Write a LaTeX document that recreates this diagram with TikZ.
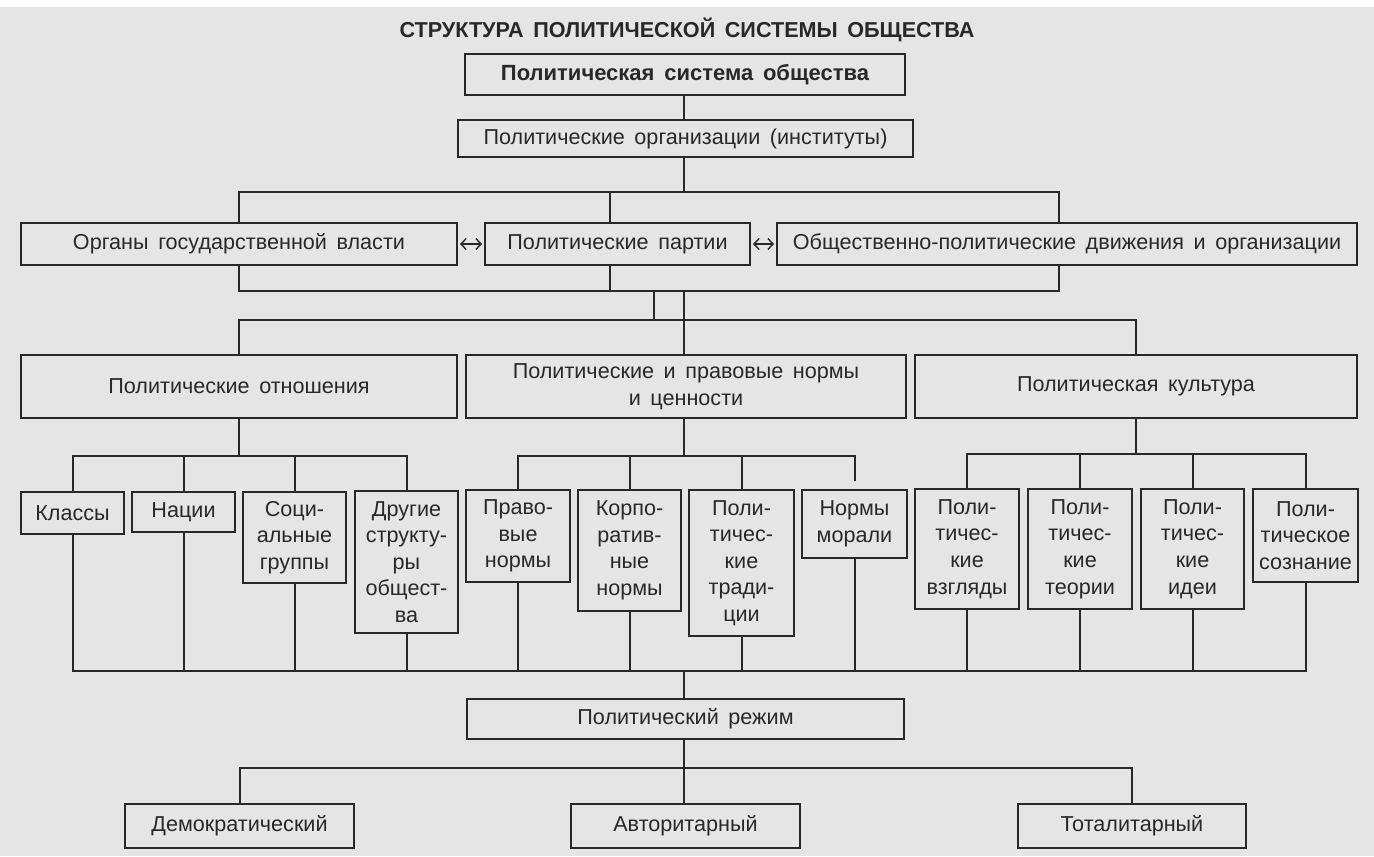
\documentclass[tikz,border=0pt]{standalone}
\usepackage{fontspec}
\setmainfont{Liberation Sans}[WordSpace=1.6]
\usetikzlibrary{arrows.meta,calc}
\definecolor{bg}{RGB}{229,229,229}
\definecolor{ink}{RGB}{40,40,40}
\begin{document}
\begin{tikzpicture}[x=0.5pt,y=-0.5pt,
 box/.style={draw=ink, line width=1pt, inner sep=0pt, align=center, text=ink, font=\fontsize{10.8}{13.3}\selectfont},
 sz/.style 2 args={minimum width={#1*0.5pt}, minimum height={#2*0.5pt}},
 ln/.style={draw=ink, line width=1pt},
 dbl/.style={draw=ink, line width=0.7pt, {Straight Barb[length=2.6pt,width=5.5pt]}-{Straight Barb[length=2.6pt,width=5.5pt]}, shorten <=1pt, shorten >=1pt}]
\useasboundingbox (0,0) rectangle (1374,856);
\fill[bg] (0,0) rectangle (1374,856);
\fill[white] (0,0) rectangle (1374,7);

\node[text=ink, font=\bfseries\fontsize{10.8}{12}\selectfont] (title) at (687,30) {СТРУКТУРА ПОЛИТИЧЕСКОЙ СИСТЕМЫ ОБЩЕСТВА};

\node[box, sz={440}{41}, font=\bfseries\fontsize{11}{13.3}\selectfont] (b1) at (685,74.5) {Политическая система общества};
\node[box, sz={455}{37}] (b2) at (685.5,138.5) {Политические организации (институты)};

\node[box, sz={436}{42}] (org) at (239,244) {Органы государственной власти};
\node[box, sz={265}{42}] (part) at (617.5,244) {Политические партии};
\node[box, sz={580}{42}] (obsh) at (1067,244) {Общественно-политические движения и организации};

\node[box, sz={436}{63}] (rel) at (239,386.5) {Политические отношения};
\node[box, sz={440}{63}] (norm) at (686,386.5) {Политические и правовые нормы\\и ценности};
\node[box, sz={442}{63}] (cult) at (1136,386.5) {Политическая культура};

\node[box, sz={103}{42}] (kl) at (72.5,513) {Классы};
\node[box, sz={103}{40}] (na) at (183.5,512) {Нации};
\node[box, sz={103}{91}] (so) at (294.5,537.5) {Соци-\\альные\\группы};
\node[box, sz={103}{142}] (dr) at (406.5,562) {Другие\\структу-\\ры\\общест-\\ва};

\node[box, sz={104}{92}] (pr) at (518,536) {Право-\\вые\\нормы};
\node[box, sz={103}{121}] (ko) at (629.5,550.5) {Корпо-\\ратив-\\ные\\нормы};
\node[box, sz={105}{146}] (tr) at (741.5,563) {Поли-\\тичес-\\кие\\тради-\\ции};
\node[box, sz={105}{68}] (mo) at (854.5,524) {Нормы\\морали};

\node[box, sz={104}{120}] (vz) at (967,549) {Поли-\\тичес-\\кие\\взгляды};
\node[box, sz={104}{120}] (te) at (1080,549) {Поли-\\тичес-\\кие\\теории};
\node[box, sz={103}{120}] (id) at (1192.5,549) {Поли-\\тичес-\\кие\\идеи};
\node[box, sz={105}{93}] (so2) at (1305.5,535.5) {Поли-\\тическое\\сознание};

\node[box, sz={437}{40}] (reg) at (685.5,719) {Политический режим};
\node[box, sz={229}{44}] (dem) at (239.5,826) {Демократический};
\node[box, sz={229}{44}] (avt) at (685.5,826) {Авторитарный};
\node[box, sz={228}{44}] (tot) at (1132,826) {Тоталитарный};

% connectors
\coordinate (P1) at (610,0);
\coordinate (Q1) at (654,0);
\coordinate (Q2) at (684,0);
\coordinate (A1) at (239,192);
\coordinate (A2) at (1059,192);
\coordinate (B1) at (239,291);
\coordinate (B2) at (1059,291);
\coordinate (C1) at (239,320);
\coordinate (DL) at (0,456);
\coordinate (DR) at (0,454);
\coordinate (E) at (0,671);
\coordinate (F) at (0,768);

\draw[ln] (Q2 |- b1.south) -- (Q2 |- b2.north);
\draw[ln] (Q2 |- b2.south) -- (Q2 |- A1);
\draw[ln] (org.north) -- (A1) -- (A2) -- (A2 |- obsh.north);
\draw[ln] (P1 |- A1) -- (P1 |- part.north);
\draw[dbl] (org.east) -- (part.west);
\draw[dbl] (part.east) -- (obsh.west);

\draw[ln] (org.south) -- (B1) -- (B2) -- (B2 |- obsh.south);
\draw[ln] (P1 |- part.south) -- (P1 |- B1);
\draw[ln] (Q1 |- B1) -- (Q1 |- C1);
\draw[ln] (Q2 |- B1) -- (Q2 |- norm.north);
\draw[ln] (rel.north) -- (C1) -- (cult.north |- C1) -- (cult.north);

\draw[ln] (rel.south) -- (rel.south |- DL);
\draw[ln] (kl.north) -- (kl.north |- DL) -- (dr.north |- DL) -- (dr.north);
\draw[ln] (na.north) -- (na.north |- DL);
\draw[ln] (so.north) -- (so.north |- DL);

\draw[ln] (Q2 |- norm.south) -- (Q2 |- DL);
\draw[ln, shorten >=4pt] (pr.north) -- (pr.north |- DL) -- (mo.north |- DL) -- (mo.north);
\draw[ln] (ko.north) -- (ko.north |- DL);
\draw[ln] (tr.north) -- (tr.north |- DL);

\draw[ln] (cult.south) -- (cult.south |- DR);
\draw[ln] (vz.north) -- (vz.north |- DR) -- (so2.north |- DR) -- (so2.north);
\draw[ln] (te.north) -- (te.north |- DR);
\draw[ln] (id.north) -- (id.north |- DR);

\draw[ln] (kl.south) -- (kl.south |- E) -- (so2.south |- E) -- (so2.south);
\foreach \n in {na,so,dr,pr,ko,tr,mo,vz,te,id} \draw[ln] (\n.south) -- (\n.south |- E);
\draw[ln] (Q2 |- E) -- (Q2 |- reg.north);

\draw[ln] (Q2 |- reg.south) -- (Q2 |- F);
\draw[ln] (dem.north) -- (dem.north |- F) -- (tot.north |- F) -- (tot.north);
\draw[ln] (Q2 |- avt.north) -- (Q2 |- F);
\end{tikzpicture}
\end{document}
